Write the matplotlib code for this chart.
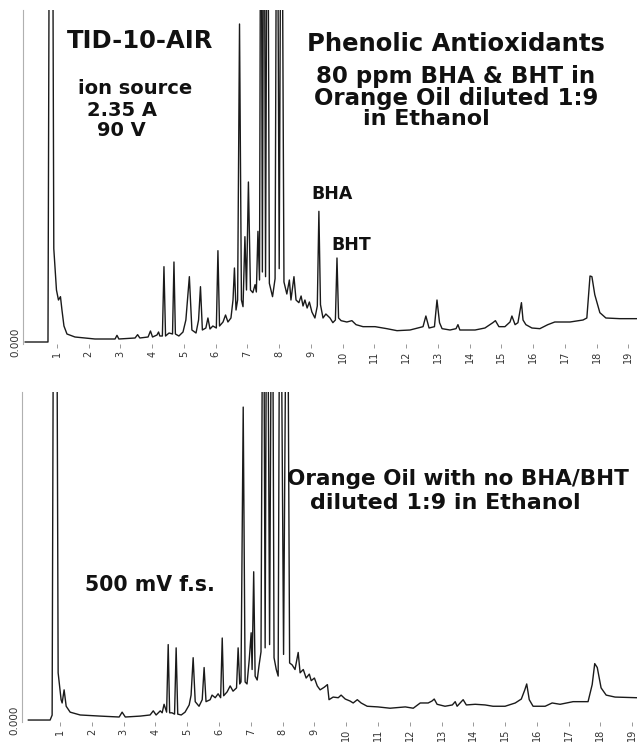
import matplotlib

matplotlib.use("Agg")
import matplotlib.pyplot as plt
import numpy as np

# trace with BHA/BHT (time in min, signal in mV)
TOP_TIME = [
    0.00, 0.717, 0.81, 0.90, 0.984, 1.047, 1.11, 1.157, 1.22, 1.315, 1.567,
    2.197, 2.83, 2.89, 2.95, 3.46, 3.54, 3.61, 3.87, 3.945, 4.01, 4.15, 4.20,
    4.24, 4.32, 4.37, 4.42, 4.53, 4.64, 4.685, 4.73, 4.84, 4.97, 5.06, 5.17,
    5.25, 5.38, 5.46, 5.52, 5.58, 5.69, 5.755, 5.82, 5.91, 6.02, 6.07, 6.12,
    6.23, 6.31, 6.385, 6.48, 6.545, 6.59, 6.64, 6.69, 6.75, 6.81, 6.86, 6.92,
    6.97, 7.03, 7.095, 7.17, 7.24, 7.28, 7.33, 7.38, 7.425, 7.47, 7.52, 7.57,
    7.63, 7.69, 7.79, 7.87, 7.93, 8.00, 8.07, 8.15, 8.24, 8.32, 8.37, 8.465,
    8.53, 8.62, 8.69, 8.75, 8.81, 8.88, 8.95, 9.03, 9.125, 9.20, 9.25, 9.30,
    9.38, 9.47, 9.60, 9.69, 9.77, 9.82, 9.87, 9.95, 10.13, 10.29, 10.42,
    10.64, 11.02, 11.39, 11.71, 12.12, 12.53, 12.62, 12.72, 12.89, 12.97,
    13.05, 13.13, 13.38, 13.57, 13.63, 13.69, 14.17, 14.48, 14.73, 14.81,
    14.92, 15.11, 15.27, 15.33, 15.43, 15.52, 15.58, 15.63, 15.68, 15.77,
    15.96, 16.21, 16.46, 16.68, 17.16, 17.57, 17.69, 17.79, 17.85, 17.94,
    18.10, 18.29, 18.73, 19.27,
]
TOP_SIGNAL_MV = [
    0, 0, 1500, 140, 78, 63, 68, 48, 24, 12, 7.5,
    4.5, 4.5, 10, 4.5, 6, 11, 6, 7.5, 16.5, 7.5, 10.5, 15,
    9, 9, 113, 9, 13.5, 12, 120, 12, 9, 15, 33, 98,
    18, 13.5, 33, 83, 18, 21, 36, 19.5, 24, 21, 137, 24,
    30, 40.5, 30, 36, 63, 111, 48, 63, 477, 63, 53, 158,
    78, 240, 78, 74, 86, 75, 166, 93, 900, 105, 900, 98,
    900, 88, 68, 95, 900, 110, 900, 90, 72, 93, 63, 98,
    63, 59, 69, 54, 63, 51, 60, 45, 36, 54, 196, 56,
    36, 42, 36, 29, 33, 126, 36, 32, 30, 32, 26,
    23, 23, 20, 17, 18, 23, 39, 21, 23, 63,
    29, 20, 18, 20, 26, 18, 18, 21, 29, 32,
    23, 23, 30, 39, 26, 29, 45, 59, 33, 26,
    21, 20, 26, 30, 30, 33, 36, 99, 98, 71,
    44, 36, 35, 35,
]

# trace without BHA/BHT
BOTTOM_TIME = [
    0.00, 0.685, 0.748, 0.84, 0.937, 1.03, 1.063, 1.125, 1.19, 1.315, 1.63,
    2.26, 2.857, 2.95, 3.05, 3.52, 3.83, 3.93, 4.02, 4.15, 4.21, 4.27, 4.35,
    4.40, 4.445, 4.52, 4.60, 4.65, 4.70, 4.81, 4.93, 5.06, 5.12, 5.185, 5.25,
    5.37, 5.47, 5.53, 5.59, 5.72, 5.78, 5.88, 5.97, 6.05, 6.10, 6.145, 6.255,
    6.35, 6.44, 6.55, 6.60, 6.65, 6.69, 6.76, 6.82, 6.88, 6.95, 7.01, 7.04,
    7.09, 7.135, 7.20, 7.26, 7.32, 7.39, 7.45, 7.51, 7.59, 7.67, 7.73, 7.80,
    7.86, 7.92, 8.03, 8.14, 8.22, 8.30, 8.39, 8.49, 8.55, 8.65, 8.74, 8.84,
    8.90, 9.00, 9.09, 9.18, 9.31, 9.41, 9.46, 9.59, 9.75, 9.84, 9.97, 10.12,
    10.22, 10.35, 10.47, 10.66, 11.00, 11.38, 11.86, 12.11, 12.33, 12.58,
    12.70, 12.77, 12.86, 13.11, 13.34, 13.43, 13.49, 13.68, 13.78, 14.06,
    14.37, 14.62, 15.00, 15.32, 15.51, 15.62, 15.68, 15.76, 15.88, 16.26,
    16.48, 16.73, 17.14, 17.61, 17.74, 17.82, 17.90, 18.02, 18.18, 18.46,
    19.15,
]
BOTTOM_SIGNAL_MV = [
    0, 0, 7.5, 1500, 72, 31, 26, 46, 21, 12, 7.7,
    6, 4.6, 12, 4.6, 6, 7.7, 14, 7.7, 14, 11, 24, 12,
    115, 11, 11, 9, 110, 9, 7.7, 12, 23, 38, 95, 28,
    21, 31, 80, 28, 31, 38, 34, 40, 34, 125, 37, 43,
    52, 44, 49, 110, 55, 58, 477, 58, 55, 92, 133, 77,
    226, 67, 61, 84, 104, 900, 110, 900, 115, 900, 95, 77,
    67, 900, 100, 900, 87, 84, 77, 103, 72, 77, 64, 70,
    60, 64, 52, 46, 50, 54, 31, 35, 34, 38, 32, 29,
    26, 31, 26, 21, 20, 18, 20, 18, 26, 26,
    29, 32, 24, 21, 23, 28, 21, 31, 23, 24,
    23, 21, 21, 26, 32, 46, 55, 31, 21, 21,
    26, 24, 28, 28, 54, 86, 80, 49, 38, 35,
    34,
]

TICK_MINUTES = list(range(1, 20))
TICK_LABELS = [str(m) for m in TICK_MINUTES]

W, H = 637, 742
fig = plt.figure(figsize=(W / 100, H / 100), dpi=100)
fig.patch.set_facecolor("white")


def px_axes(left, top, right, bottom):
    return fig.add_axes([left / W, 1 - bottom / H, (right - left) / W, (bottom - top) / H])


def style_axes(ax, xlim, ylim):
    ax.set_xlim(*xlim)
    ax.set_ylim(*ylim)
    for side in ("top", "right", "bottom"):
        ax.spines[side].set_visible(False)
    ax.spines["left"].set_color("#b0b0b0")
    ax.spines["left"].set_linewidth(0.8)
    ax.set_xticks(TICK_MINUTES)
    ax.set_xticklabels(TICK_LABELS, rotation=90, fontsize=7, color="#333333")
    ax.tick_params(axis="x", length=3, width=0.6, color="#888888", pad=2)
    ax.set_yticks([0.0])
    ax.set_yticklabels([f"{0.0:.3f}"], rotation=90, fontsize=7.5, color="#333333", va="center")
    ax.tick_params(axis="y", length=0, pad=2)
    ax.set_facecolor("none")


ax_top = px_axes(23, 10, 637, 344)
ax_top.plot(TOP_TIME, np.array(TOP_SIGNAL_MV) / 1000, color="#1a1a1a", lw=1.0)
style_axes(ax_top, (-0.07, 19.27), (-0.003, 0.498))

ax_bot = px_axes(22, 392, 637, 722)
ax_bot.plot(BOTTOM_TIME, np.array(BOTTOM_SIGNAL_MV) / 1000, color="#1a1a1a", lw=1.0)
style_axes(ax_bot, (-0.2, 19.15), (-0.003, 0.500))


def label(x, y, s, size, ha="center"):
    fig.text(x / W, 1 - y / H, s, fontsize=size, fontweight="bold",
             ha=ha, va="center", color="#111111", family="DejaVu Sans")


label(140, 41, "TID-10-AIR", 17.5)
label(135, 89, "ion source", 14)
label(122, 110, "2.35 A", 14)
label(121, 130, "90 V", 14)

label(456, 44, "Phenolic Antioxidants", 17.5)
label(456, 77, "80 ppm BHA & BHT in", 16.5)
label(456, 98, "Orange Oil diluted 1:9", 16.5)
label(426, 119, "in Ethanol", 16)

label(332, 194, "BHA", 12.5)
label(351, 245, "BHT", 12.5)

label(458, 479, "Orange Oil with no BHA/BHT", 15.5)
label(445, 503, "diluted 1:9 in Ethanol", 16)
label(150, 585, "500 mV f.s.", 14.8)

fig.savefig("out.png", dpi=100, facecolor="white")
